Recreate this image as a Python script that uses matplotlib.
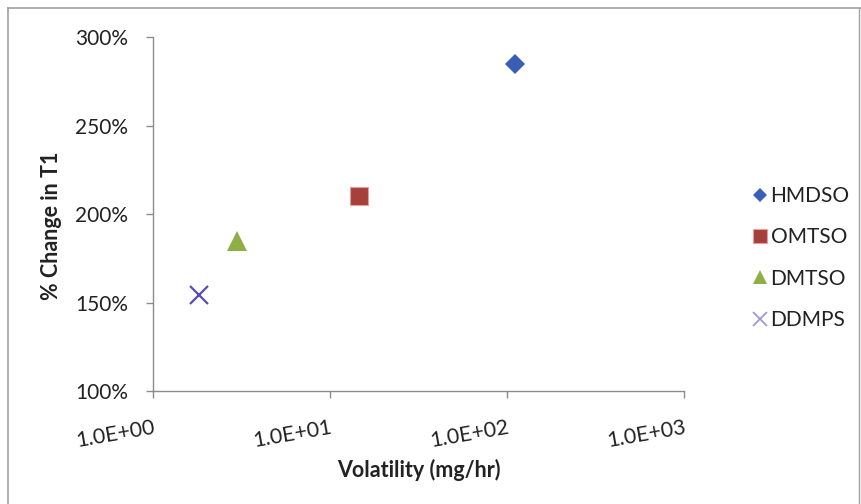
import matplotlib
matplotlib.use("Agg")
import matplotlib.pyplot as plt
from matplotlib.lines import Line2D
from matplotlib.ticker import FixedLocator, NullLocator
from matplotlib.transforms import ScaledTranslation

plt.rcParams['font.family'] = ['Lato', 'DejaVu Sans']

compounds = ["HMDSO", "OMTSO", "DMTSO", "DDMPS"]
volatility = [111.0, 14.6, 3.0, 1.82]          # mg/hr
t1_change = [285.0, 210.0, 185.0, 154.0]       # % change in T1
x_ticks = [1.0, 10.0, 100.0, 1000.0]
x_tick_labels = ["1.0E+00", "1.0E+01", "1.0E+02", "1.0E+03"]
y_ticks = [100, 150, 200, 250, 300]
y_tick_labels = ["100%", "150%", "200%", "250%", "300%"]

styles = {
    "HMDSO": dict(marker="D", color="#3B5DB8", ms=10, mew=0),
    "OMTSO": dict(marker="s", color="#A6403B", ms=13, mew=0.8, mec="#E0A0A0"),
    "DMTSO": dict(marker="^", color="#8DAF45", ms=14, mew=0),
    "DDMPS": dict(marker="x", color="#5A4CB2", ms=13, mew=1.6),
}

text_color = "#222222"
fig = plt.figure(figsize=(8.62, 5.04), dpi=100)
ax = fig.add_axes([153 / 862, 1 - 391 / 504, (684 - 153) / 862, (391 - 37) / 504])

for name, vx, vy in zip(compounds, volatility, t1_change):
    ax.plot([vx], [vy], linestyle="none", label=name, **styles[name])

ax.set_xscale("log")
ax.set_xlim(x_ticks[0], x_ticks[-1])
ax.set_ylim(y_ticks[0], y_ticks[-1])
ax.xaxis.set_major_locator(FixedLocator(x_ticks))
ax.xaxis.set_minor_locator(NullLocator())
ax.set_xticklabels(x_tick_labels, rotation=10, ha="right", rotation_mode="anchor",
                   fontsize=15.5, color=text_color)
shift = ScaledTranslation(6 / 100, 0, fig.dpi_scale_trans)
for lbl in ax.get_xticklabels():
    lbl.set_transform(lbl.get_transform() + shift)
ax.set_yticks(y_ticks)
ax.set_yticklabels(y_tick_labels, fontsize=15, color=text_color)

for s in ("top", "right"):
    ax.spines[s].set_visible(False)
for s in ("left", "bottom"):
    ax.spines[s].set_color("#8C8C8C")
    ax.spines[s].set_linewidth(1.0)
ax.tick_params(axis="both", direction="out", color="#8C8C8C", length=5, width=1)
ax.tick_params(axis="x", pad=14)
ax.tick_params(axis="y", pad=13)

ax.set_xlabel("Volatility (mg/hr)", fontsize=15.5, fontweight="bold", color=text_color, labelpad=6)
ax.set_ylabel("% Change in T1", fontsize=15.5, fontweight="bold", color=text_color)
ax.yaxis.set_label_coords(-91 / 531, (391 - 226) / 354)

handles = []
for name in compounds:
    st = dict(styles[name])
    st["ms"] = st["ms"] * 0.75
    if name == "DDMPS":
        st["color"] = "#9A90D8"
        st["mew"] = 1.2
    handles.append(Line2D([], [], linestyle="none", **st))
leg = fig.legend(handles, compounds, loc="center left", bbox_to_anchor=(731 / 862, 1 - 258 / 504),
                 frameon=False, fontsize=15, handletextpad=0.0, labelspacing=1.02,
                 handlelength=1.0)
for t in leg.get_texts():
    t.set_color(text_color)

# light frame around the chart area
frame_color = "#A0A0A0"
fig.add_artist(Line2D([8 / 862, 8 / 862], [0, 1 - 8 / 504], transform=fig.transFigure,
                      color=frame_color, lw=1.2))
fig.add_artist(Line2D([8 / 862, 1], [1 - 8 / 504, 1 - 8 / 504], transform=fig.transFigure,
                      color=frame_color, lw=1.2))
fig.add_artist(Line2D([859 / 862, 859 / 862], [0, 1 - 8 / 504], transform=fig.transFigure,
                      color=frame_color, lw=1.0))

fig.savefig("out.png", dpi=100)
